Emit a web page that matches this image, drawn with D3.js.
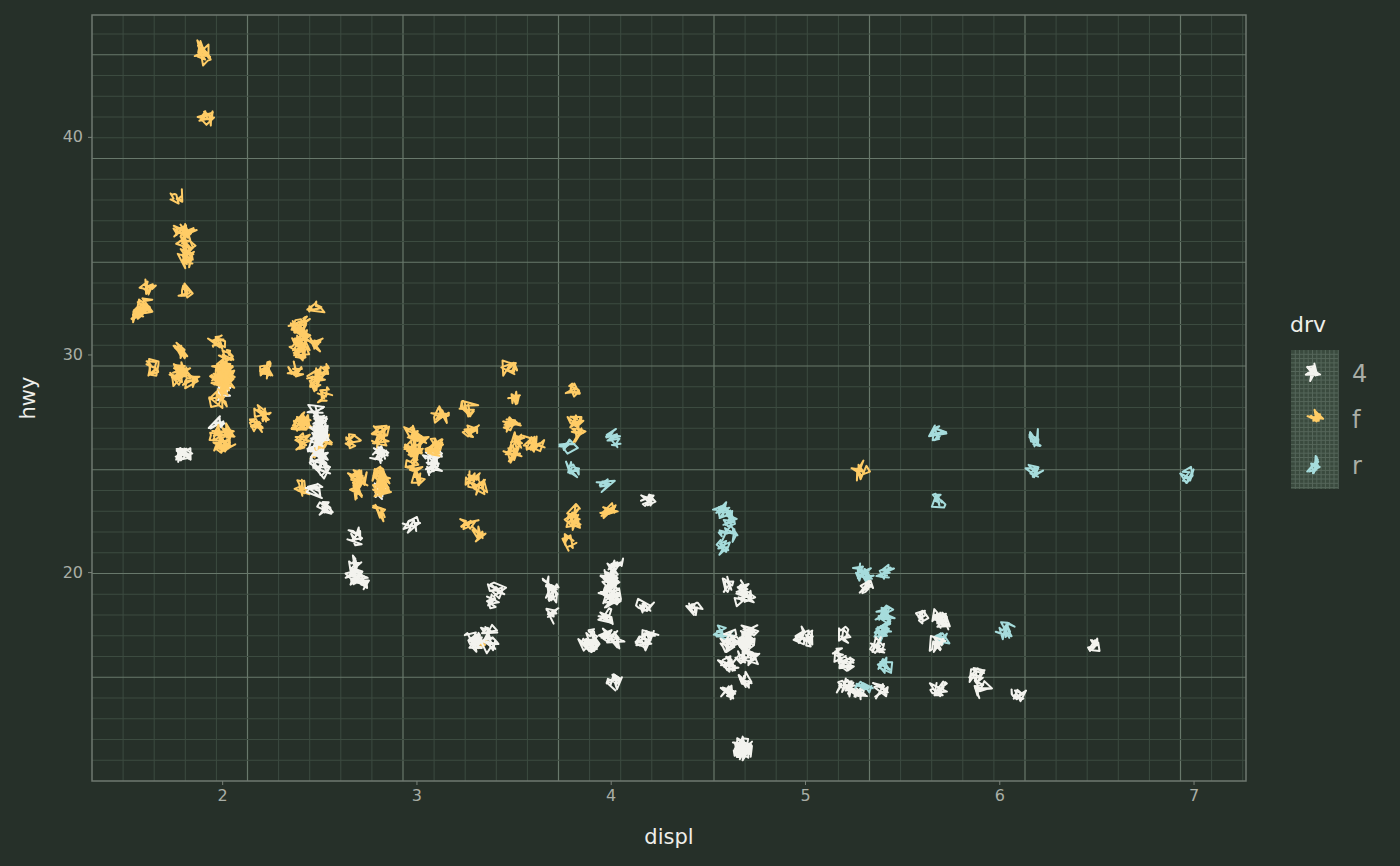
<!DOCTYPE html>
<html><head><meta charset="utf-8">
<script src="https://cdn.jsdelivr.net/npm/d3@7.9.0/dist/d3.min.js"></script>
<style>body{margin:0;background:#263029;}</style>
</head><body><svg id="c" width="1400" height="866"></svg>
<script>
// mpg: displ, hwy, drv
const displ = [1.8,1.8,2,2,2.8,2.8,3.1, 1.8,1.8,2,2,2.8,2.8,3.1,3.1, 2.8,3.1,4.2,
 5.3,5.3,5.3,5.7,6, 5.7,5.7,6.2,6.2,7, 5.3,5.3,5.7,6.5, 2.4,2.4,3.1,3.5,3.6,
 2.4,3,3.3,3.3,3.3,3.3,3.3,3.8,3.8,3.8,4, 3.7,3.7,3.9,3.9,4.7,4.7,4.7,5.2,5.2,
 3.9,4.7,4.7,4.7,5.2,5.7,5.9, 4.7,4.7,4.7,4.7,4.7,4.7,5.2,5.2,5.7,5.9,
 4.6,5.4,5.4, 4,4,4,4,4.6,5, 4.2,4.2,4.6,4.6,4.6,5.4,5.4, 3.8,3.8,4,4,4.6,4.6,4.6,4.6,5.4,
 1.6,1.6,1.6,1.6,1.6,1.8,1.8,1.8,2, 2.4,2.4,2.4,2.4,2.5,2.5,3.3, 2,2,2,2.7,2.7,2.7,2.7,
 3,3.7,4,4.7,4.7,4.7,5.7,6.1, 4,4.2,4.4,4.6, 5.4,5.4,5.4, 4,4,4.6,5,
 2.4,2.4,2.5,2.5,3.5,3.5, 3,3,3.5, 3.3,3.3,4,5.6, 3.1,3.8,3.8,3.8,5.3,
 2.5,2.5,2.5,2.5,2.5,2.5, 2.5,2.5,2.5,2.5,2.5,2.5,2.5,2.5, 2.7,2.7,3.4,3.4,4,4.7,
 2.2,2.2,2.4,2.4,3,3,3.5, 2.2,2.2,2.4,2.4,3,3,3.3, 1.8,1.8,1.8,1.8,1.8, 4.7,5.7,
 2.7,2.7,2.7,3.4,3.4,4,4, 2,2,2,2,2.8, 1.9,2,2,2,2,2.5,2.5,2.8,2.8, 1.9,1.9,2,2,2.5,2.5,
 1.8,1.8,2,2,2.8,2.8,3.6];
const hwy = [29,29,31,30,26,26,27, 26,25,28,27,25,25,25,25, 24,25,23,
 20,15,20,17,17, 26,23,26,25,24, 19,14,15,17, 27,30,26,29,26,
 24,24,22,22,24,24,17,22,21,23,23, 19,18,17,17,19,19,12,17,15,
 17,17,12,17,16,18,15, 16,12,17,17,16,12,15,16,17,15,
 17,17,18, 17,19,17,19,19,17, 17,17,16,16,17,15,17, 26,25,26,24,21,22,23,22,20,
 33,32,32,29,32,34,36,36,29, 26,27,30,31,26,26,28, 26,29,28,26,24,24,24,
 22,19,20,17,12,19,18,14, 15,18,18,15, 17,16,18, 19,19,17,17,
 29,27,31,32,27,26, 26,25,25, 17,17,20,18, 26,26,27,28,25,
 25,24,27,25,26,23, 26,26,26,26,25,27,25,27, 20,20,19,17,20,17,
 29,27,31,31,26,26,28, 27,29,31,31,26,26,27, 30,33,35,37,35, 15,18,
 20,20,22,17,19,18,20, 29,26,29,29,24, 44,29,26,29,29,29,29,23,24, 44,41,29,26,28,29,
 29,29,29,29,24,24,26];
const drv = ["f","f","f","f","f","f","f", "4","4","4","4","4","4","4","4", "4","4","4",
 "r","r","r","r","r", "r","r","r","r","r", "4","4","4","4", "f","f","f","f","f",
 "f","f","f","f","f","f","f","f","f","f","f", "4","4","4","4","4","4","4","4","4",
 "4","4","4","4","4","4","4", "4","4","4","4","4","4","4","4","4","4",
 "r","r","r", "4","4","4","4","4","4", "4","4","4","4","4","4","4", "r","r","r","r","r","r","r","r","r",
 "f","f","f","f","f","f","f","f","f", "f","f","f","f","f","f","f", "f","f","f","f","f","f","f",
 "4","4","4","4","4","4","4","4", "4","4","4","4", "r","r","r", "4","4","4","4",
 "f","f","f","f","f","f", "f","f","f", "4","4","4","4", "f","f","f","f","f",
 "4","4","4","4","4","4", "4","4","4","4","4","4","4","4", "4","4","4","4","4","4",
 "f","f","f","f","f","f","f", "f","f","f","f","f","f","f", "f","f","f","f","f", "4","4",
 "4","4","4","4","4","4","4", "f","f","f","f","f", "f","f","f","f","f","f","f","f","f", "f","f","f","f","f","f",
 "f","f","f","f","f","f","f"];
const drvLevels = ["4","f","r"];
const xTicks = [2,3,4,5,6,7];
const yTicks = [20,30,40];

const colors = {"4":"#f3f3ee","f":"#ffcc66","r":"#a6dcdc"};
const svg = d3.select("#c");
const L=92,R=1246,T=15,B=781;
const x = d3.scaleLinear().domain([1.33,7.27]).range([L,R]);
const y = d3.scaleLinear().domain([10.4,45.6]).range([B,T]);

// seeded rng for the hand-drawn look
let seed = 11;
function rnd(){ seed = (seed*16807)%2147483647; return seed/2147483647; }

const g = svg.append("g");
g.append("rect").attr("x",L).attr("y",T).attr("width",R-L).attr("height",B-T).attr("fill","#263029");
function grid(gr,x0,x1,y0,y1,dx,dy){
  for(let i=1;x0+i*dx<x1-1;i++){const px=x0+i*dx;
    gr.append("line").attr("x1",px).attr("x2",px).attr("y1",y0).attr("y2",y1)
      .attr("stroke",i%5===0?"#68786b":"#3c4b40").attr("stroke-width",i%5===0?1.2:1);}
  for(let i=1;y1-i*dy>y0+1;i++){const py=y1-i*dy;
    gr.append("line").attr("y1",py).attr("y2",py).attr("x1",x0).attr("x2",x1)
      .attr("stroke",i%5===0?"#68786b":"#3c4b40").attr("stroke-width",i%5===0?1.2:1);}
}
grid(g,L,R,T,B,31.1,20.75);
g.append("rect").attr("x",L).attr("y",T).attr("width",R-L).attr("height",B-T)
  .attr("fill","none").attr("stroke","#6f7870").attr("stroke-width",1.5);

function scribble(cx,cy,col,parent){
  const pts=[];
  for(let k=0;k<8;k++){const a=rnd()*Math.PI*2, r=2+rnd()*8;
    pts.push([cx+Math.cos(a)*r, cy+Math.sin(a)*r]);}
  parent.append("path").attr("d",d3.line().curve(d3.curveLinearClosed)(pts))
    .attr("fill","none").attr("stroke",col).attr("stroke-width",2).attr("stroke-linejoin","round");
}
const pg = svg.append("g");
displ.forEach((d,i)=>{
  const jx = (rnd()-0.5)*0.06, jy=(rnd()-0.5)*0.9;
  scribble(x(d+jx), y(hwy[i]+jy), colors[drv[i]], pg);
  scribble(x(d+jx)+(rnd()-0.5)*4, y(hwy[i]+jy)+(rnd()-0.5)*4, colors[drv[i]], pg);
});

// axes
const ax = svg.append("g").attr("transform",`translate(0,${B})`)
  .call(d3.axisBottom(x).tickValues(xTicks).tickSize(4).tickPadding(5).tickFormat(d3.format("d")));
const ay = svg.append("g").attr("transform",`translate(${L},0)`)
  .call(d3.axisLeft(y).tickValues(yTicks).tickSize(4).tickPadding(5));
[ax,ay].forEach(a=>{a.select(".domain").remove();
  a.selectAll("line").attr("stroke","#7a827a");
  a.selectAll("text").attr("fill","#a9aea6").attr("font-size",16).attr("font-family","DejaVu Sans");});
svg.append("text").attr("x",(L+R)/2).attr("y",844).attr("text-anchor","middle")
  .attr("fill","#eeeeea").attr("font-size",21).attr("font-family","DejaVu Sans").text("displ");
svg.append("text").attr("transform",`translate(35,${(T+B)/2}) rotate(-90)`).attr("text-anchor","middle")
  .attr("fill","#eeeeea").attr("font-size",21).attr("font-family","DejaVu Sans").text("hwy");

// legend
const lg = svg.append("g");
lg.append("text").attr("x",1290).attr("y",332).attr("fill","#eeeeea").attr("font-size",22)
  .attr("font-family","DejaVu Sans").text("drv");
lg.append("rect").attr("x",1291).attr("y",350).attr("width",47).attr("height",139).attr("fill","#3a4a3e");
const lgg = lg.append("g");
for(let i=1;i<12;i++){lgg.append("line").attr("x1",1291+i*4.3).attr("x2",1291+i*4.3).attr("y1",350).attr("y2",489).attr("stroke","#55665a");}
for(let i=1;i<33;i++){lgg.append("line").attr("y1",350+i*4.3).attr("y2",350+i*4.3).attr("x1",1291).attr("x2",1338).attr("stroke","#55665a");}
drvLevels.forEach((k,i)=>{
  const cy = 373+i*46;
  scribble(1314,cy,colors[k],lg); scribble(1314,cy,colors[k],lg);
  lg.append("text").attr("x",1352).attr("y",cy+9).attr("fill","#a9aea6").attr("font-size",24)
    .attr("font-family","DejaVu Sans").text(k);
});
</script></body></html>
